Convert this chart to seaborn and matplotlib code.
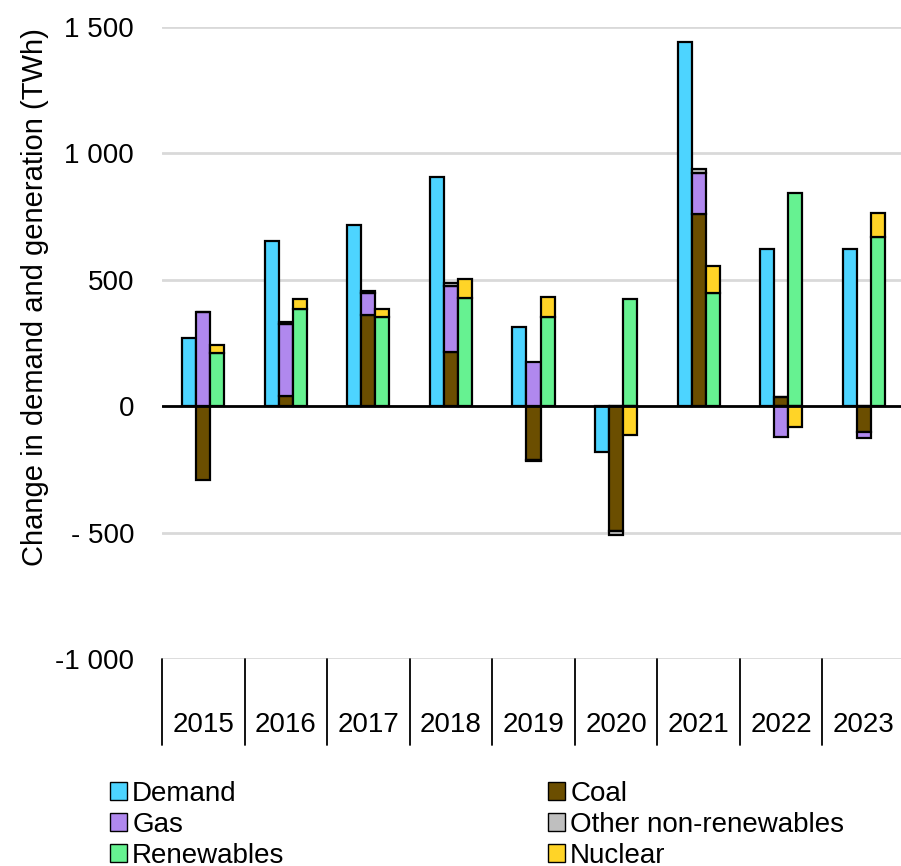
import numpy as np
import seaborn as sns
import matplotlib.pyplot as plt
from matplotlib.patches import Patch

sns.set_theme(style="white")
plt.rcParams['font.family'] = ['Liberation Sans', 'DejaVu Sans']
plt.rcParams['text.color'] = 'black'
plt.rcParams['axes.labelcolor'] = 'black'
plt.rcParams['ytick.color'] = 'black'
plt.rcParams['xtick.color'] = 'black'

years = ["2015", "2016", "2017", "2018", "2019", "2020", "2021", "2022", "2023"]
demand = [269, 652, 715, 905, 312, -182, 1439, 620, 620]
coal = [-292, 40, 360, 213, -213, -494, 759, 36, -103]
gas = [372, 284, 87, 261, 174, 0, 162, -122, -23]
other = [0, 8, 8, 12, -4, -16, 16, 0, 0]
renewables = [209, 383, 352, 427, 352, 423, 447, 842, 668]
nuclear = [32, 40, 31, 75, 79, -115, 106, -83, 95]

colors = {
    "Demand": "#4DD4FF",
    "Coal": "#6B4E00",
    "Gas": "#B088EE",
    "Other non-renewables": "#BFBFBF",
    "Renewables": "#66F291",
    "Nuclear": "#FFD427",
}

fs = 20

fig = plt.figure(figsize=(9.01, 8.66), dpi=100)
ax = fig.add_axes([162 / 901, 1 - 659 / 866, 743 / 901, (659 - 27) / 866])

x = np.arange(len(years))
w = 0.17


def stack(ax, xpos, series):
    pos = np.zeros(len(xpos))
    neg = np.zeros(len(xpos))
    for name, vals in series:
        vals = np.array(vals, dtype=float)
        bottom = np.where(vals >= 0, pos, neg)
        ax.bar(xpos, vals, w, bottom=bottom, color=colors[name],
               edgecolor="black", linewidth=1.6, zorder=3)
        pos = pos + np.where(vals >= 0, vals, 0)
        neg = neg + np.where(vals < 0, vals, 0)


stack(ax, x - w, [("Demand", demand)])
stack(ax, x, [("Coal", coal), ("Gas", gas), ("Other non-renewables", other)])
stack(ax, x + w, [("Renewables", renewables), ("Nuclear", nuclear)])

ax.set_xlim(-0.5, len(years) - 0.5)
ax.set_ylim(-1000, 1500)
ax.set_yticks([-1000, -500, 0, 500, 1000, 1500])
ax.set_yticklabels(["-1 000", "- 500", "0", "500", "1 000", "1 500"], fontsize=fs)
ax.tick_params(axis="y", length=0, pad=20)
ax.set_xticks([])
ax.grid(axis="y", color="#d9d9d9", linewidth=2, zorder=0)
ax.axhline(0, color="black", linewidth=2, zorder=4)
sns.despine(ax=ax, left=True, bottom=True)
ax.set_ylabel("Change in demand and generation (TWh)", fontsize=21)
ax.yaxis.set_label_coords(-0.152, 0.573)

# category axis below the plot
trans = ax.get_xaxis_transform()
for i in range(len(years) + 1):
    ax.plot([i - 0.5, i - 0.5], [0, -86 / 632], transform=trans,
            color="black", linewidth=1.3, clip_on=False)
for i, yr in enumerate(years):
    ax.text(i, -66 / 632, yr, transform=trans, ha="center", va="center",
            fontsize=fs)

legend_kw = dict(frameon=False, fontsize=fs, handlelength=0.6, handleheight=0.6,
                 handletextpad=0.2, labelspacing=0.18, borderpad=0,
                 borderaxespad=0, loc="upper left")
left_items = ["Demand", "Gas", "Renewables"]
right_items = ["Coal", "Other non-renewables", "Nuclear"]
fig.legend(handles=[Patch(facecolor=colors[n], edgecolor="black", label=n)
                    for n in left_items],
           bbox_to_anchor=(110 / 901, 1 - 781 / 866), **legend_kw)
fig.legend(handles=[Patch(facecolor=colors[n], edgecolor="black", label=n)
                    for n in right_items],
           bbox_to_anchor=(548 / 901, 1 - 781 / 866), **legend_kw)

fig.savefig("out.png", dpi=100)
